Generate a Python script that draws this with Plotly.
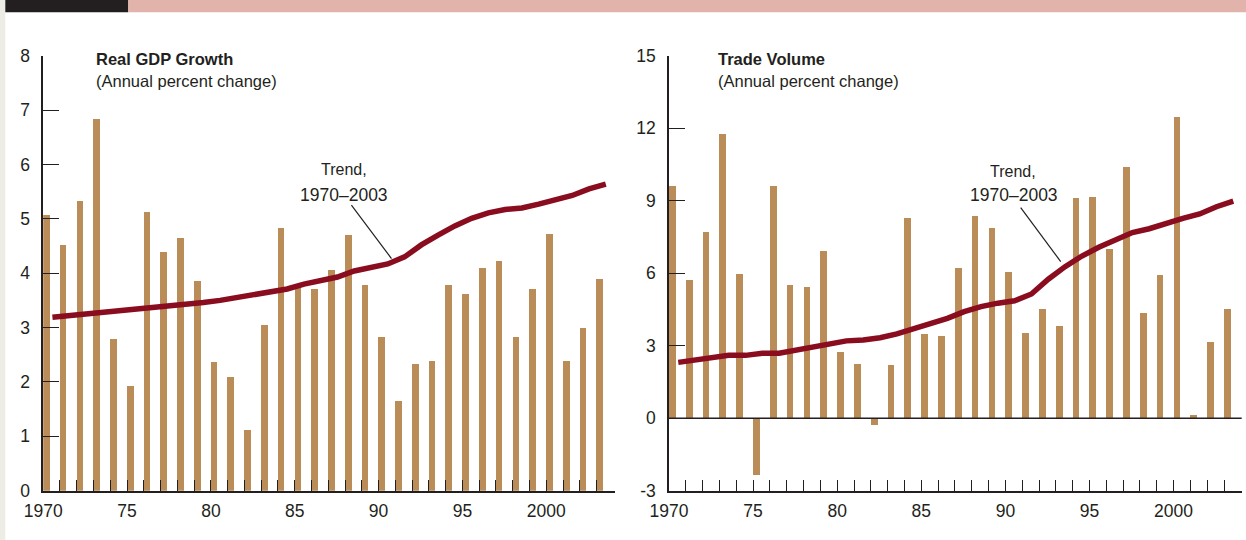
import plotly.graph_objects as go

# ---------------- data ----------------
years = list(range(1970, 2004))

gdp_growth = [5.07, 4.52, 5.34, 6.84, 2.79, 1.93, 5.14, 4.40, 4.65, 3.87,
              2.38, 2.09, 1.12, 3.05, 4.83, 3.78, 3.72, 4.06, 4.70, 3.79,
              2.84, 1.65, 2.34, 2.40, 3.79, 3.62, 4.10, 4.23, 2.83, 3.71,
              4.73, 2.40, 3.00, 3.90]

gdp_trend = [3.19, 3.22, 3.24, 3.27, 3.30, 3.33, 3.36, 3.38, 3.42, 3.46,
             3.50, 3.55, 3.60, 3.65, 3.71, 3.80, 3.87, 3.93, 4.04, 4.10,
             4.17, 4.30, 4.52, 4.70, 4.87, 5.01, 5.11, 5.17, 5.20, 5.27,
             5.34, 5.43, 5.55, 5.64]

trade_growth = [9.62, 5.75, 7.71, 11.76, 6.00, -2.35, 9.64, 5.51, 5.43, 6.92,
                2.74, 2.27, -0.25, 2.23, 8.30, 3.51, 3.43, 6.24, 8.38, 7.87,
                6.06, 3.54, 4.53, 3.82, 9.11, 9.15, 7.03, 10.39, 4.38, 5.93,
                12.48, 0.15, 3.15, 4.52]

trade_trend = [2.31, 2.41, 2.50, 2.60, 2.60, 2.69, 2.69, 2.82, 2.96, 3.10,
               3.20, 3.24, 3.33, 3.49, 3.70, 3.93, 4.13, 4.41, 4.62, 4.76,
               4.86, 5.14, 5.75, 6.27, 6.71, 7.07, 7.40, 7.68, 7.84, 8.07,
               8.27, 8.45, 8.75, 8.98]

x_tick_labels = {1970: "1970", 1975: "75", 1980: "80", 1985: "85",
                 1990: "90", 1995: "95", 2000: "2000"}
gdp_yticks = [0, 1, 2, 3, 4, 5, 6, 7, 8]
trade_yticks = [-3, 0, 3, 6, 9, 12, 15]

# ---------------- style ----------------
W, H = 1246, 540
BAR = "#BA8C58"
TREND = "#8A0C1F"
INK = "#231F20"
FONT = "Liberation Sans, Arial, sans-serif"


def fx(p):
    return p / W


def fy(p):
    return 1 - p / H


fig = go.Figure()

fig.add_trace(go.Bar(x=years, y=gdp_growth, offset=0, width=0.4,
                     marker=dict(color=BAR, line=dict(width=0)),
                     xaxis="x", yaxis="y", hoverinfo="x+y"))
fig.add_trace(go.Scatter(x=[y + 0.55 for y in years], y=gdp_trend, mode="lines",
                         line=dict(color=TREND, width=5.5),
                         xaxis="x", yaxis="y"))
fig.add_trace(go.Bar(x=years, y=trade_growth, offset=0, width=0.4,
                     marker=dict(color=BAR, line=dict(width=0)),
                     xaxis="x2", yaxis="y2", hoverinfo="x+y"))
fig.add_trace(go.Scatter(x=[y + 0.55 for y in years], y=trade_trend, mode="lines",
                         line=dict(color=TREND, width=5.5),
                         xaxis="x2", yaxis="y2"))

ticktext = [x_tick_labels.get(y, "") for y in years]

common_x = dict(tickvals=years, ticktext=ticktext, ticks="inside", ticklen=11,
                tickwidth=1.2, tickcolor=INK, showline=True, linecolor=INK,
                linewidth=1.5, showgrid=False, zeroline=False,
                tickfont=dict(family=FONT, size=17.5, color=INK),
                ticklabelstandoff=4, automargin=False, fixedrange=True)
common_y = dict(ticks="inside", ticklen=16, tickwidth=1.2, tickcolor=INK,
                showline=True, linecolor=INK, linewidth=1.5, showgrid=False,
                zeroline=False, tickfont=dict(family=FONT, size=17.5, color=INK),
                ticklabelstandoff=8, automargin=False, fixedrange=True)

ydom = [fy(490.7), fy(55.7)]

fig.update_layout(
    width=W, height=H,
    margin=dict(l=0, r=0, t=0, b=0),
    paper_bgcolor="white", plot_bgcolor="white",
    showlegend=False,
    bargap=0,
    font=dict(family=FONT, color=INK),
    xaxis=dict(domain=[fx(43.2), fx(615)], range=[1970, 2004.1], anchor="y", **common_x),
    yaxis=dict(domain=ydom, range=[0, 8], tickvals=gdp_yticks,
               ticktext=[str(v) for v in gdp_yticks], anchor="x", **common_y),
    xaxis2=dict(domain=[fx(669), fx(1241.7)], range=[1970, 2004.05], anchor="y2", **common_x),
    yaxis2=dict(domain=ydom, range=[-3, 15], tickvals=trade_yticks,
                ticktext=[str(v) for v in trade_yticks], anchor="x2", **common_y),
)

shapes = [
    # left page strip
    dict(type="rect", xref="paper", yref="paper", x0=0, x1=fx(5.3), y0=0, y1=1,
         fillcolor="#EDEDE6", line=dict(width=0), layer="below"),
    # banner
    dict(type="rect", xref="paper", yref="paper", x0=fx(5.3), x1=fx(128.3),
         y0=fy(12.3), y1=1, fillcolor=INK, line=dict(width=0), layer="below"),
    dict(type="rect", xref="paper", yref="paper", x0=fx(128.3), x1=1,
         y0=fy(12.3), y1=1, fillcolor="#E2B3AA", line=dict(width=0), layer="below"),
    # zero line on trade panel
    dict(type="line", xref="x2 domain", yref="y2", x0=0, x1=1, y0=0, y1=0,
         line=dict(color=INK, width=1.5), layer="above"),
    # leader lines
    dict(type="line", xref="x", yref="y", x0=1988.38, y0=5.25, x1=1990.77, y1=4.27,
         line=dict(color=INK, width=1.2)),
    dict(type="line", xref="x2", yref="y2", x0=1990.91, y0=8.71, x1=1993.29, y1=6.48,
         line=dict(color=INK, width=1.2)),
]

annotations = [
    dict(text="<b>Real GDP Growth</b>", xref="paper", yref="paper", x=fx(94), y=fy(58.8),
         xanchor="left", yanchor="middle", showarrow=False,
         font=dict(family=FONT, size=16.5, color=INK)),
    dict(text="(Annual percent change)", xref="paper", yref="paper", x=fx(94), y=fy(80.5),
         xanchor="left", yanchor="middle", showarrow=False,
         font=dict(family=FONT, size=16.5, color=INK)),
    dict(text="<b>Trade Volume</b>", xref="paper", yref="paper", x=fx(715.7), y=fy(58.8),
         xanchor="left", yanchor="middle", showarrow=False,
         font=dict(family=FONT, size=16.5, color=INK)),
    dict(text="(Annual percent change)", xref="paper", yref="paper", x=fx(715.7), y=fy(80.5),
         xanchor="left", yanchor="middle", showarrow=False,
         font=dict(family=FONT, size=16.5, color=INK)),
    dict(text="Trend,", xref="x", yref="y", x=1987.93, y=5.90, showarrow=False,
         xanchor="center", yanchor="middle", font=dict(family=FONT, size=16, color=INK)),
    dict(text="1970–2003", xref="x", yref="y", x=1987.93, y=5.44, showarrow=False,
         xanchor="center", yanchor="middle", font=dict(family=FONT, size=17.5, color=INK)),
    dict(text="Trend,", xref="x2", yref="y2", x=1990.45, y=10.20, showarrow=False,
         xanchor="center", yanchor="middle", font=dict(family=FONT, size=16, color=INK)),
    dict(text="1970–2003", xref="x2", yref="y2", x=1990.51, y=9.24, showarrow=False,
         xanchor="center", yanchor="middle", font=dict(family=FONT, size=17.5, color=INK)),
]

fig.update_layout(shapes=shapes, annotations=annotations)

fig.write_html("out.html", config={"displayModeBar": False},
               post_script="document.body.style.margin='0';document.body.style.padding='0';")
